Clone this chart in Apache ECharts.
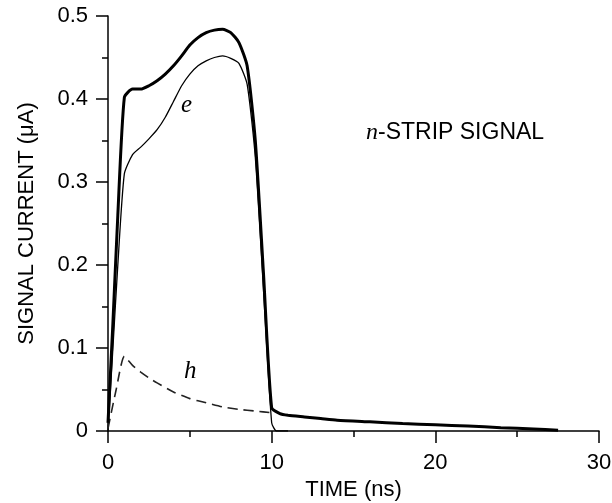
<!DOCTYPE html>
<html>
<head>
<meta charset="utf-8">
<script src="https://cdn.jsdelivr.net/npm/echarts@6/dist/echarts.min.js"></script>
<style>html,body{margin:0;padding:0;background:#fff}#c{width:612px;height:503px}</style>
</head>
<body>
<div id="c"></div>
<script>
// total signal (thick line)
var totalTime = [0, 0.3, 0.6, 1.0, 1.5, 2.0, 2.5, 3.0, 3.5, 4.0, 4.5, 5.0, 5.5, 6.0, 6.5, 7.0, 7.5, 8.0, 8.5, 9.0, 9.5, 10.0, 10.5, 11, 12, 13, 14, 16, 18, 20, 22, 24, 26, 27.5];
var totalCurrent = [0.01, 0.13, 0.26, 0.402, 0.412, 0.412, 0.416, 0.422, 0.43, 0.44, 0.452, 0.465, 0.474, 0.480, 0.483, 0.484, 0.48, 0.468, 0.44, 0.35, 0.19, 0.028, 0.021, 0.019, 0.017, 0.015, 0.013, 0.011, 0.009, 0.0075, 0.006, 0.004, 0.0025, 0.001];
// electron contribution (thin line)
var eTime = [0, 0.3, 0.6, 1.0, 1.5, 2.0, 2.5, 3.0, 3.5, 4.0, 4.5, 5.0, 5.5, 6.0, 6.5, 7.0, 7.5, 8.0, 8.5, 9.0, 9.5, 10.0, 10.3, 11];
var eCurrent = [0.0, 0.1, 0.2, 0.31, 0.333, 0.342, 0.352, 0.363, 0.378, 0.397, 0.416, 0.43, 0.44, 0.446, 0.45, 0.452, 0.449, 0.443, 0.418, 0.33, 0.17, 0.01, 0.0, 0.0];
// hole contribution (dashed line)
var hTime = [0, 0.5, 1.0, 1.5, 2.0, 2.5, 3.0, 4.0, 5.0, 6.0, 7.0, 8.0, 9.0, 10.0];
var hCurrent = [0.003, 0.05, 0.09, 0.079, 0.071, 0.064, 0.058, 0.047, 0.039, 0.034, 0.029, 0.026, 0.024, 0.022];

var xTicks = [0, 10, 20, 30];
var yTicks = [0, 0.1, 0.2, 0.3, 0.4, 0.5];

function pairs(t, v) { return t.map(function (x, i) { return [x, v[i]]; }); }

var chart = echarts.init(document.getElementById('c'), null, {renderer: 'canvas'});
var fontFam = '"Liberation Sans", Arial, sans-serif';
chart.setOption({
  animation: false,
  backgroundColor: '#fff',
  grid: {left: 108, right: 13, top: 16, bottom: 72, containLabel: false, outerBoundsMode: 'none'},
  xAxis: {
    type: 'value', min: xTicks[0], max: xTicks[xTicks.length - 1], interval: 10,
    name: 'TIME (ns)', nameLocation: 'middle', nameGap: 47,
    nameTextStyle: {fontFamily: fontFam, fontSize: 22, color: '#000'},
    axisLine: {show: true, onZero: false, lineStyle: {color: '#000', width: 1.5}},
    axisTick: {show: true, inside: false, length: 12, lineStyle: {color: '#000', width: 1.5}},
    minorTick: {show: true, splitNumber: 2, length: 6, lineStyle: {color: '#000', width: 1.5}},
    splitLine: {show: false},
    axisLabel: {fontFamily: fontFam, fontSize: 22, color: '#000', margin: 21}
  },
  yAxis: {
    type: 'value', min: yTicks[0], max: yTicks[yTicks.length - 1], interval: 0.1,
    name: 'SIGNAL CURRENT (\u03bcA)', nameLocation: 'middle', nameGap: 70,
    nameTextStyle: {fontFamily: fontFam, fontSize: 22, color: '#000'},
    axisLine: {show: true, onZero: false, lineStyle: {color: '#000', width: 1.5}},
    axisTick: {show: true, inside: false, length: 12, lineStyle: {color: '#000', width: 1.5}},
    minorTick: {show: true, splitNumber: 2, length: 6, lineStyle: {color: '#000', width: 1.5}},
    splitLine: {show: false},
    axisLabel: {fontFamily: fontFam, fontSize: 22, color: '#000', margin: 20}
  },
  series: [
    {type: 'line', data: pairs(totalTime, totalCurrent), showSymbol: false, smooth: 0.2,
     lineStyle: {color: '#000', width: 3}, z: 3},
    {type: 'line', data: pairs(eTime, eCurrent), showSymbol: false, smooth: 0.2,
     lineStyle: {color: '#000', width: 1.3}, z: 2},
    {type: 'line', data: pairs(hTime, hCurrent), showSymbol: false, smooth: 0.2,
     lineStyle: {color: '#222', width: 1.6, type: [10, 6]}, z: 2}
  ],
  graphic: [
    {type: 'text', left: 181, top: 93, style: {text: 'e', font: 'italic 25px "Liberation Serif", serif', fill: '#000'}},
    {type: 'text', left: 184, top: 359, style: {text: 'h', font: 'italic 25px "Liberation Serif", serif', fill: '#000'}},
    {type: 'text', left: 366, top: 121, style: {rich: {
      i: {font: 'italic 24px "Liberation Serif", serif', fill: '#000'},
      r: {font: '23px "Liberation Sans", Arial, sans-serif', fill: '#000'}
    }, text: '{i|n}{r|-STRIP SIGNAL}'}}
  ]
});
</script>
</body>
</html>
